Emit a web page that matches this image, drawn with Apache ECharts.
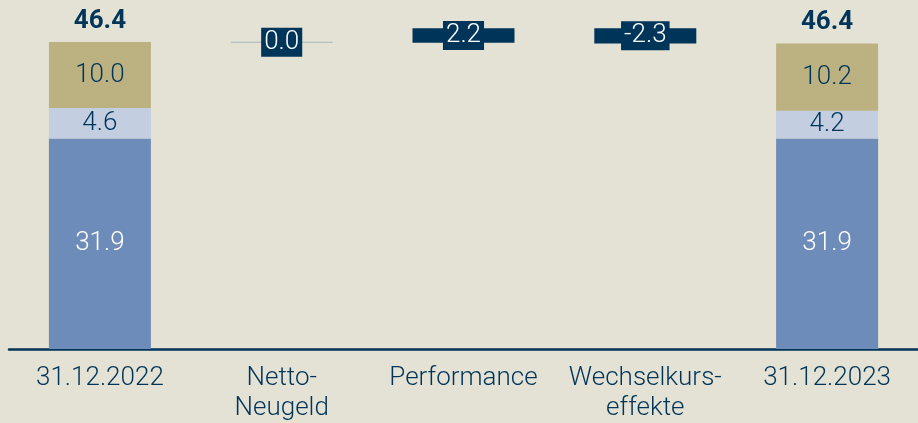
<!DOCTYPE html>
<html><head><meta charset="utf-8">
<script src="https://cdn.jsdelivr.net/npm/echarts@6/dist/echarts.min.js"></script>
<style>html,body{margin:0;padding:0;background:#e4e2d4;}#c{width:918px;height:423px;}</style>
</head><body><div id="c"></div>
<script>
const categories = ['31.12.2022', 'Netto-\nNeugeld', 'Performance', 'Wechselkurs-\neffekte', '31.12.2023'];
const segBlue = [31.9, '-', '-', '-', 31.9];
const segLight = [4.6, '-', '-', '-', 4.2];
const segKhaki = [10.0, '-', '-', '-', 10.2];
const totals = [46.4, '-', '-', '-', 46.4];
const startTotal = 46.4;
const changes = [0.0, 2.2, -2.3];

// waterfall bases from the changes
const base = ['-'], delta = ['-'];
let cum = startTotal;
changes.forEach(v => {
  if (v >= 0) { base.push(cum); delta.push(v); }
  else { base.push(+(cum + v).toFixed(2)); delta.push(-v); }
  cum = +(cum + v).toFixed(2);
});
base.push('-'); delta.push('-');

const navy = '#00355a';
const font = 'Roboto';
const fw = 300;
const chart = echarts.init(document.getElementById('c'));
chart.setOption({
  backgroundColor: '#e4e2d4',
  animation: false,
  grid: { left: 9, right: -1, top: 0, bottom: 72 },
  xAxis: {
    type: 'category', data: categories,
    axisLine: { lineStyle: { color: navy, width: 2.5 } },
    axisTick: { show: false },
    axisLabel: { color: navy, fontSize: 26, fontWeight: fw, fontFamily: font, lineHeight: 30, margin: 14, interval: 0 }
  },
  yAxis: { type: 'value', min: 0, max: 52.88, show: false, splitLine: { show: false } },
  series: [
    { type: 'bar', stack: 's', barWidth: 102, data: segBlue, itemStyle: { color: '#6e8cba' },
      label: { show: true, position: 'inside', color: '#ffffff', fontSize: 26, fontWeight: fw, fontFamily: font, formatter: p => p.value.toFixed(1) } },
    { type: 'bar', stack: 's', barWidth: 102, data: segLight, itemStyle: { color: '#c3cee0' },
      label: { show: true, position: 'inside', color: navy, fontSize: 26, fontWeight: fw, fontFamily: font, formatter: p => p.value.toFixed(1) } },
    { type: 'bar', stack: 's', barWidth: 102, data: segKhaki, itemStyle: { color: '#bcb181' },
      label: { show: true, position: 'inside', color: navy, fontSize: 26, fontWeight: fw, fontFamily: font, formatter: p => p.value.toFixed(1) } },
    { type: 'bar', stack: 's', barWidth: 102, data: totals.map(v => v === '-' ? '-' : 0), itemStyle: { color: 'transparent' },
      label: { show: true, position: 'top', distance: 8, color: navy, fontSize: 26, fontWeight: 'bold', fontFamily: font,
        formatter: p => totals[p.dataIndex].toFixed(1) } },
    { type: 'bar', stack: 's', barWidth: 102, data: base, itemStyle: { color: 'transparent' }, silent: true },
    { type: 'bar', stack: 's', barWidth: 102, barMinHeight: 1,
      data: delta.map((v, i) => (i === 1 ? { value: v, itemStyle: { color: '#a6b6bd' } } : v)),
      itemStyle: { color: navy },
      label: { show: true, position: 'inside', color: '#ffffff', fontSize: 26, fontWeight: fw, fontFamily: font,
        backgroundColor: navy, padding: [3, 3, 1, 3], lineHeight: 25,
        formatter: p => { const v = changes[p.dataIndex - 1]; return (v < 0 ? '-' : '') + Math.abs(v).toFixed(1); } } }
  ]
});
</script></body></html>
